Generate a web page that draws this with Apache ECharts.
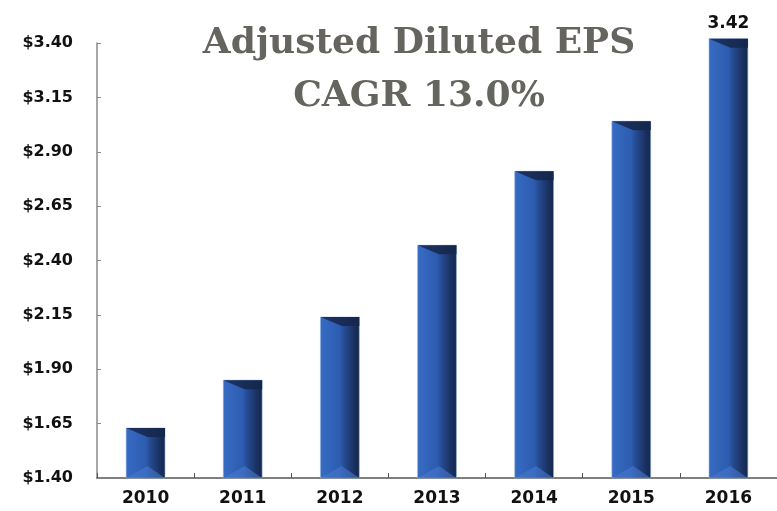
<!DOCTYPE html>
<html>
<head>
<meta charset="utf-8">
<script src="https://cdn.jsdelivr.net/npm/echarts@6/dist/echarts.min.js"></script>
<style>
  html, body { margin: 0; padding: 0; background: #fff; }
  #chart { width: 777px; height: 511px; }
</style>
</head>
<body>
<div id="chart"></div>
<script>
const years = ['2010', '2011', '2012', '2013', '2014', '2015', '2016']
const eps = [1.63, 1.85, 2.14, 2.47, 2.81, 3.04, 3.42]
const yMin = 1.40
const yMax = 3.40
const yStep = 0.25
const titleLines = ['Adjusted Diluted EPS', 'CAGR 13.0%']

const chart = echarts.init(document.getElementById('chart'), null, { renderer: 'canvas' })

// beveled bar: body + dark top chamfer + lighter bottom wedge
const renderBar = (params, api) => {
  const idx = params.dataIndex
  const top = api.coord([api.value(0), api.value(1)])
  const base = api.coord([api.value(0), yMin])
  const w = api.size([1, 0])[0] * 0.4
  const x0 = top[0] - w / 2
  const x1 = top[0] + w / 2
  const y0 = top[1]
  const y1 = base[1]
  const d = 9
  const children = [
    {
      type: 'rect',
      shape: { x: x0, y: y0, width: w, height: y1 - y0 },
      style: {
        fill: new echarts.graphic.LinearGradient(0, 0, 1, 0, [
          { offset: 0, color: '#376cc4' },
          { offset: 0.5, color: '#2d5cb0' },
          { offset: 0.62, color: '#254a90' },
          { offset: 0.85, color: '#1a3262' },
          { offset: 1, color: '#14264a' }
        ]),
        stroke: 'rgba(150,180,225,0.6)',
        lineWidth: 1
      }
    },
    {
      type: 'polygon',
      shape: { points: [[x0, y0], [x1, y0], [x1, y0 + d], [x0 + w * 0.55, y0 + d]] },
      style: {
        fill: new echarts.graphic.LinearGradient(0, 0, 1, 0, [
          { offset: 0, color: '#1d3466' },
          { offset: 1, color: '#14264a' }
        ])
      }
    },
    {
      type: 'polygon',
      shape: { points: [[x0, y1], [x0 + w * 0.55, y1 - d - 3], [x1, y1]] },
      style: { fill: 'rgba(70,120,205,0.6)' }
    }
  ]
  if (idx === eps.length - 1) {
    children.push({
      type: 'text',
      style: {
        text: eps[idx].toFixed(2),
        x: top[0],
        y: y0 - 7,
        align: 'center',
        verticalAlign: 'bottom',
        font: 'bold 17px "DejaVu Sans", sans-serif',
        fill: '#111'
      }
    })
  }
  return { type: 'group', children }
}

const titleStyle = {
  fontFamily: '"DejaVu Serif", serif',
  fontWeight: 'bold',
  fontSize: 36,
  color: '#66645f'
}

const option = {
  backgroundColor: '#fff',
  animation: false,
  title: [
    { text: titleLines[0], left: 414, top: 21, textAlign: 'center', textStyle: titleStyle },
    { text: titleLines[1], left: 414, top: 74, textAlign: 'center', textStyle: titleStyle }
  ],
  grid: {
    left: 97,
    right: -11,
    top: 43,
    bottom: 33,
    containLabel: false
  },
  xAxis: {
    type: 'category',
    data: years,
    axisLine: { lineStyle: { color: '#555', width: 1.5 } },
    axisTick: { show: true, inside: true, length: 5, lineStyle: { color: '#555' } },
    axisLabel: {
      margin: 12,
      fontFamily: '"DejaVu Sans", sans-serif',
      fontWeight: 'bold',
      fontSize: 17,
      color: '#111'
    },
    splitLine: { show: false }
  },
  yAxis: {
    type: 'value',
    min: yMin,
    max: yMax,
    interval: yStep,
    axisLine: { show: true, lineStyle: { color: '#888', width: 1.5 } },
    axisTick: { show: true, inside: true, length: 4, lineStyle: { color: '#888' } },
    axisLabel: {
      margin: 24,
      formatter: (v) => '$' + v.toFixed(2),
      fontFamily: '"DejaVu Sans", sans-serif',
      fontWeight: 'bold',
      fontSize: 16,
      color: '#111'
    },
    splitLine: { show: false }
  },
  series: [
    {
      type: 'custom',
      renderItem: renderBar,
      encode: { x: 0, y: 1 },
      data: years.map((y, i) => [i, eps[i]]),
      clip: false
    }
  ]
}

chart.setOption(option)
</script>
</body>
</html>
